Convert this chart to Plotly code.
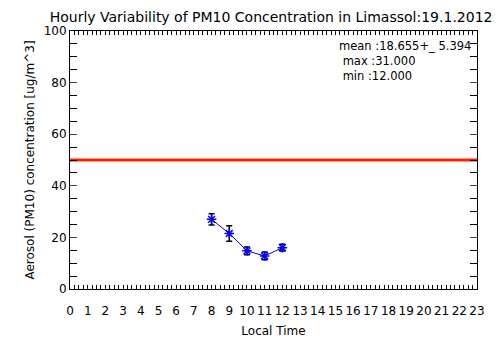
import plotly.graph_objects as go

hours = [8, 9, 10, 11, 12]
pm10 = [27.0, 21.5, 14.8, 12.8, 16.0]
pm10_err = [2.2, 3.0, 1.5, 1.5, 1.3]
limit_x = [0, 23]
limit_y = [50, 50]
x_ticks = list(range(0, 24))
y_ticks = [0, 20, 40, 60, 80, 100]
stats_lines = ["mean :18.655+_ 5.394", " max :31.000", " min :12.000"]

font = "DejaVu Sans"
fig = go.Figure()
fig.add_trace(go.Scatter(x=limit_x, y=limit_y, mode="lines",
                         line=dict(color="#ff2000", width=3), hoverinfo="skip"))
fig.add_trace(go.Scatter(
    x=hours, y=pm10, mode="lines+markers",
    line=dict(color="#0000ff", width=1),
    marker=dict(symbol="asterisk-open", size=8, color="#0000ff",
                line=dict(color="#0000ff", width=1.5)),
    error_y=dict(type="data", array=pm10_err, color="black", thickness=1.5, width=3),
))
# invisible trace to carry the mirrored top/right axes
fig.add_trace(go.Scatter(x=limit_x, y=limit_y, xaxis="x2", yaxis="y2", mode="lines",
                         line=dict(width=0), opacity=0, hoverinfo="skip"))

fig.add_annotation(x=0.655, y=1, xref="paper", yref="paper", xanchor="left", yanchor="top",
                   yshift=-6, align="left", showarrow=False,
                   text="<br>".join(s.replace(" ", "&nbsp;", 1) if s.startswith(" ") else s
                                    for s in stats_lines),
                   font=dict(family=font, size=11.5, color="black"))

fig.update_layout(
    width=504, height=361,
    margin=dict(l=62, r=35, t=23, b=80),
    paper_bgcolor="white", plot_bgcolor="white",
    showlegend=False,
    title=dict(text="Hourly Variability of PM10 Concentration in Limassol:19.1.2012",
               x=0.522, xanchor="center", y=0.975, yanchor="middle",
               font=dict(family=font, size=14, color="black")),
    font=dict(family=font, size=12, color="black"),
    xaxis2=dict(overlaying="x", side="top", matches="x", range=[0, 23],
                tickvals=x_ticks, showticklabels=False, ticks="inside", ticklen=1,
                showgrid=False, zeroline=False,
                minor=dict(dtick=0.25, ticks="inside", ticklen=4, tickcolor="black", showgrid=False)),
    yaxis2=dict(overlaying="y", side="right", matches="y", range=[0, 100],
                tickvals=y_ticks, showticklabels=False, ticks="inside", ticklen=7,
                showgrid=False, zeroline=False,
                minor=dict(dtick=5, ticks="inside", ticklen=7, tickcolor="black", showgrid=False)),
    xaxis=dict(range=[0, 23], tickvals=x_ticks, ticktext=[str(v) for v in x_ticks],
               ticks="inside", ticklen=1, showgrid=False, zeroline=False,
               showline=True, linecolor="black", linewidth=1, mirror=True,
               minor=dict(dtick=0.25, ticks="inside", ticklen=4, tickcolor="black", showgrid=False),
               ticklabelstandoff=11,
               title=dict(text="Local Time", standoff=9, font=dict(size=12)),
               tickfont=dict(size=12), automargin=False),
    yaxis=dict(range=[0, 100], tickvals=y_ticks, ticks="inside", ticklen=7,
               showgrid=False, zeroline=False,
               showline=True, linecolor="black", linewidth=1, mirror=True,
               minor=dict(dtick=5, ticks="inside", ticklen=7, tickcolor="black", showgrid=False),
               title=dict(text="Aerosol (PM10) concentration [ug/m^3]", standoff=6, font=dict(size=12)),
               tickfont=dict(size=12), automargin=False),
)

fig.write_html("out.html")
